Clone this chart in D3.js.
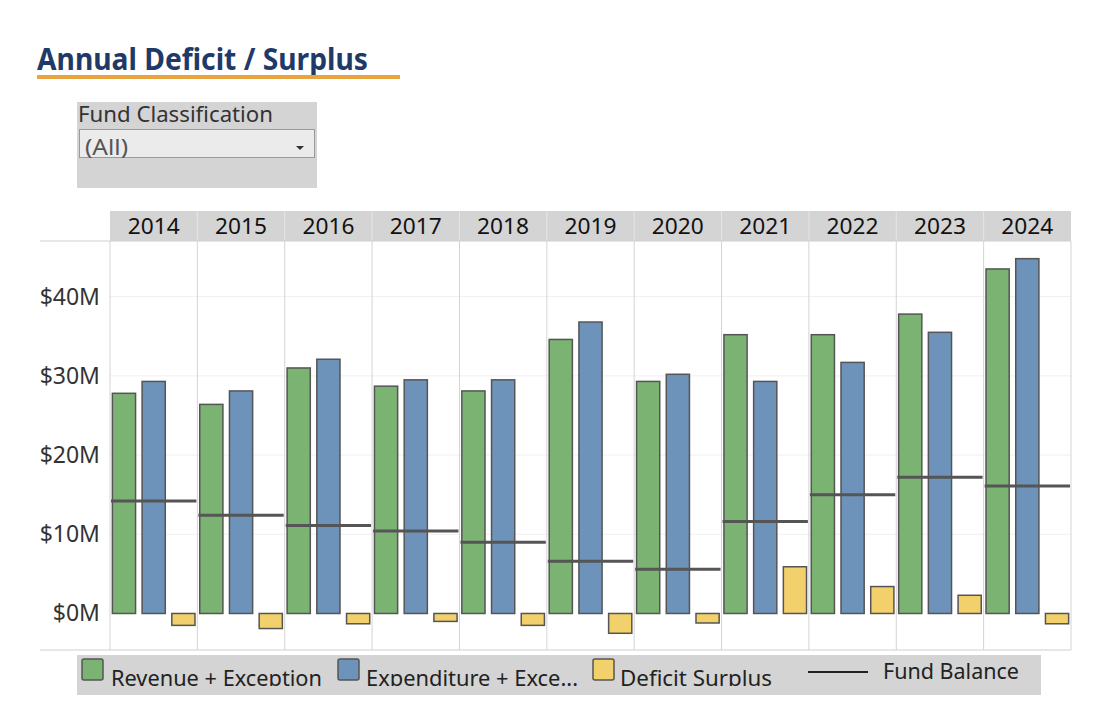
<!DOCTYPE html>
<html lang="en">
<head>
  <meta charset="UTF-8">
  <title>Annual Deficit / Surplus</title>
  <script src="https://d3js.org/d3.v7.min.js"></script>
  <style>
    body { margin: 0; background: #fff; }
    svg { display: block; font-family: "Noto Sans", "Open Sans", sans-serif; }
  </style>
</head>
<body>
  <div class="canvas"></div>
  <script>
    // values in $M
    const years = [2014, 2015, 2016, 2017, 2018, 2019, 2020, 2021, 2022, 2023, 2024];
    const revenue = [27.8, 26.4, 31.0, 28.7, 28.1, 34.6, 29.3, 35.2, 35.2, 37.8, 43.5];
    const expenditure = [29.3, 28.1, 32.1, 29.5, 29.5, 36.8, 30.2, 29.3, 31.7, 35.5, 44.8];
    const deficit = [-1.5, -1.9, -1.3, -1.0, -1.5, -2.5, -1.2, 5.9, 3.4, 2.3, -1.3];
    const fundBalance = [14.2, 12.4, 11.1, 10.4, 9.0, 6.6, 5.6, 11.6, 15.0, 17.2, 16.1];
    const yTicks = [0, 10, 20, 30, 40];

    const seriesKeys = ['revenue', 'expenditure', 'deficit'];
    const seriesColors = ['#7bb372', '#6e93bb', '#f2d06b'];

    const width = 1097;
    const height = 719;
    const [pl, pr, pt, pb] = [110, 1071, 241, 650];

    const svg = d3.select('.canvas')
      .append('svg')
      .attr('width', width)
      .attr('height', height);

    // title
    svg.append('text')
      .attr('x', 37)
      .attr('y', 70)
      .attr('font-size', 30)
      .attr('font-weight', 'bold')
      .attr('fill', '#1f3a68')
      .attr('textLength', 331)
      .attr('lengthAdjust', 'spacingAndGlyphs')
      .text('Annual Deficit / Surplus');
    svg.append('rect')
      .attr('x', 37).attr('y', 75)
      .attr('width', 363).attr('height', 4)
      .attr('fill', '#e8a53f');

    // filter box
    svg.append('rect')
      .attr('x', 77).attr('y', 102)
      .attr('width', 240).attr('height', 86)
      .attr('fill', '#d4d4d4');
    svg.append('text')
      .attr('x', 78).attr('y', 122)
      .attr('font-size', 21)
      .attr('fill', '#333')
      .attr('textLength', 195)
      .attr('lengthAdjust', 'spacingAndGlyphs')
      .text('Fund Classification');
    svg.append('rect')
      .attr('x', 79.5).attr('y', 129.5)
      .attr('width', 235).attr('height', 28)
      .attr('fill', '#ebebeb')
      .attr('stroke', '#9a9a9a');
    svg.append('text')
      .attr('x', 85).attr('y', 155)
      .attr('font-size', 22)
      .attr('fill', '#555')
      .attr('textLength', 43)
      .attr('lengthAdjust', 'spacingAndGlyphs')
      .text('(All)');
    svg.append('path')
      .attr('d', 'M296,146 L304,146 L300,150 Z')
      .attr('fill', '#333');

    // scales
    const x = d3.scaleBand()
      .domain(years)
      .range([pl, pr]);

    const xInner = d3.scaleBand()
      .domain(seriesKeys)
      .range([0, x.bandwidth()])
      .paddingInner(0.22)
      .paddingOuter(0.08);

    const y = d3.scaleLinear()
      .domain([-4.61, 47.03])
      .range([pb, pt]);

    const color = d3.scaleOrdinal()
      .domain(seriesKeys)
      .range(seriesColors);

    // header band
    svg.append('rect')
      .attr('x', pl).attr('y', 211)
      .attr('width', pr - pl).attr('height', pt - 211)
      .attr('fill', '#d4d4d4');

    svg.selectAll('.year')
      .data(years)
      .enter()
      .append('text')
      .attr('class', 'year')
      .attr('x', d => x(d) + x.bandwidth() / 2)
      .attr('y', 234)
      .attr('text-anchor', 'middle')
      .attr('font-size', 22)
      .attr('fill', '#111')
      .attr('textLength', 52)
      .attr('lengthAdjust', 'spacingAndGlyphs')
      .text(d => d);

    // header separators
    svg.selectAll('.hsep')
      .data(years.slice(1))
      .enter()
      .append('line')
      .attr('x1', d => x(d)).attr('x2', d => x(d))
      .attr('y1', 211).attr('y2', pt)
      .attr('stroke', '#e6e6e6');

    // horizontal gridlines
    svg.selectAll('.grid')
      .data(yTicks.slice(1))
      .enter()
      .append('line')
      .attr('x1', pl).attr('x2', pr)
      .attr('y1', d => y(d)).attr('y2', d => y(d))
      .attr('stroke', '#efefef');

    // pane borders
    svg.selectAll('.vsep')
      .data(years.concat(['end']))
      .enter()
      .append('line')
      .attr('x1', d => d === 'end' ? pr : x(d))
      .attr('x2', d => d === 'end' ? pr : x(d))
      .attr('y1', pt).attr('y2', pb)
      .attr('stroke', '#d4d4d4');

    svg.append('line')
      .attr('x1', 40).attr('x2', pr)
      .attr('y1', pt).attr('y2', pt)
      .attr('stroke', '#cfcfcf');
    svg.append('line')
      .attr('x1', 40).attr('x2', pr)
      .attr('y1', pb).attr('y2', pb)
      .attr('stroke', '#cfcfcf');

    // y axis labels
    const yAxis = d3.axisLeft(y)
      .tickValues(yTicks)
      .tickFormat(d => `$${d}M`)
      .tickSize(0)
      .tickPadding(10);
    const yAxisG = svg.append('g')
      .attr('transform', `translate(${pl}, 0)`)
      .call(yAxis);
    yAxisG.select('.domain').remove();
    yAxisG.selectAll('text')
      .attr('font-size', 23)
      .attr('font-family', '"Noto Sans", sans-serif')
      .attr('fill', '#333');

    // bars
    const rows = years.map((yr, i) => ({
      year: yr,
      revenue: revenue[i],
      expenditure: expenditure[i],
      deficit: deficit[i],
      balance: fundBalance[i]
    }));

    const groups = svg.selectAll('.yearGroup')
      .data(rows)
      .enter()
      .append('g')
      .attr('class', 'yearGroup')
      .attr('transform', d => `translate(${x(d.year)}, 0)`);

    groups.selectAll('rect')
      .data(d => seriesKeys.map(k => ({ key: k, value: d[k] })))
      .enter()
      .append('rect')
      .attr('x', d => xInner(d.key))
      .attr('y', d => y(Math.max(0, d.value)))
      .attr('width', xInner.bandwidth())
      .attr('height', d => Math.abs(y(d.value) - y(0)))
      .attr('fill', d => color(d.key))
      .attr('stroke', '#555')
      .attr('stroke-width', 1.5);

    // fund balance reference lines
    groups.append('line')
      .attr('x1', 1)
      .attr('x2', x.bandwidth() - 1)
      .attr('y1', d => y(d.balance))
      .attr('y2', d => y(d.balance))
      .attr('stroke', '#555')
      .attr('stroke-width', 3);

    // legend
    svg.append('defs')
      .append('clipPath')
      .attr('id', 'legendClip')
      .append('rect')
      .attr('x', 77).attr('y', 655)
      .attr('width', 964).attr('height', 31);

    svg.append('rect')
      .attr('x', 77).attr('y', 655)
      .attr('width', 964).attr('height', 40)
      .attr('fill', '#d4d4d4');

    const legendItems = [
      { key: 'revenue', label: 'Revenue + Exception', sx: 82, tx: 111, len: 211 },
      { key: 'expenditure', label: 'Expenditure + Exce...', sx: 338, tx: 366, len: 212 },
      { key: 'deficit', label: 'Deficit Surplus', sx: 593, tx: 620, len: 152 }
    ];

    const legend = svg.append('g').attr('clip-path', 'url(#legendClip)');
    legend.selectAll('.swatch')
      .data(legendItems)
      .enter()
      .append('rect')
      .attr('x', d => d.sx)
      .attr('y', 659)
      .attr('width', 21).attr('height', 21)
      .attr('rx', 2)
      .attr('fill', d => color(d.key))
      .attr('stroke', '#555')
      .attr('stroke-width', 1.5);
    legend.selectAll('.ltext')
      .data(legendItems)
      .enter()
      .append('text')
      .attr('x', d => d.tx)
      .attr('y', 686)
      .attr('font-size', 22)
      .attr('fill', '#222')
      .attr('textLength', d => d.len)
      .attr('lengthAdjust', 'spacingAndGlyphs')
      .text(d => d.label);

    svg.append('line')
      .attr('x1', 808).attr('x2', 868)
      .attr('y1', 672).attr('y2', 672)
      .attr('stroke', '#222')
      .attr('stroke-width', 2);
    svg.append('text')
      .attr('x', 883).attr('y', 679)
      .attr('font-size', 22)
      .attr('fill', '#222')
      .attr('textLength', 136)
      .attr('lengthAdjust', 'spacingAndGlyphs')
      .text('Fund Balance');
  </script>
</body>
</html>
